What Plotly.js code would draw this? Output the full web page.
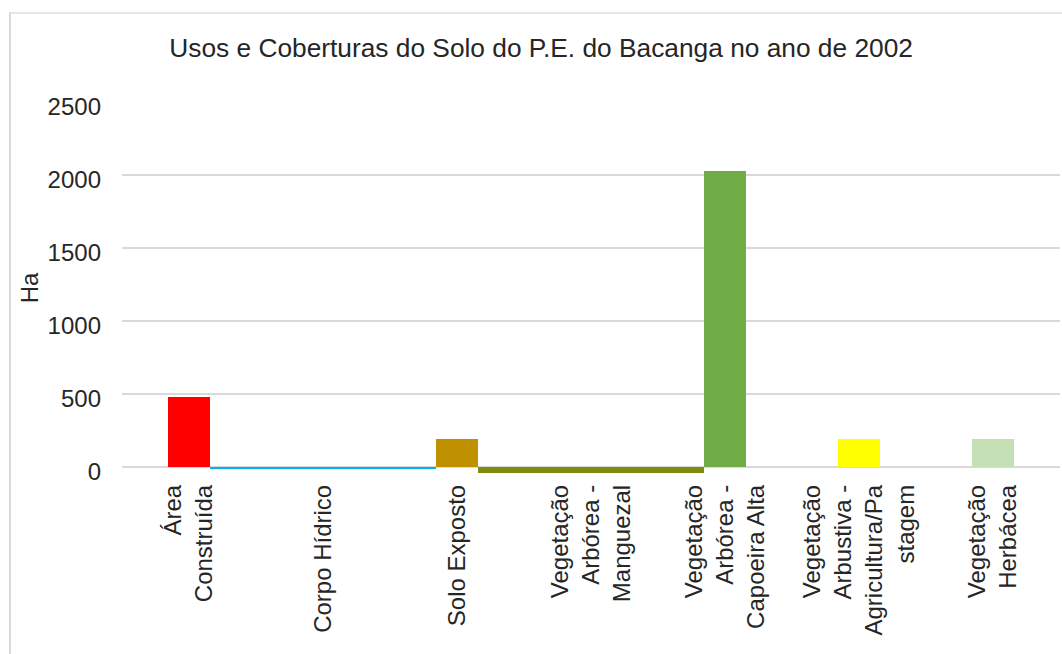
<!DOCTYPE html>
<html>
<head>
<meta charset="utf-8">
<script src="https://cdn.plot.ly/plotly-3.0.1.min.js"></script>
<style>
  html, body { margin: 0; padding: 0; background: #ffffff; }
  #frame { position: absolute; left: 9px; top: 12px; width: 1100px; height: 700px;
           border-left: 2px solid #d9d9d9; border-top: 2px solid #e6e6e6; }
  #chart { position: absolute; left: 0; top: 0; width: 1062px; height: 654px; }
</style>
</head>
<body>
<div id="frame"></div>
<div id="chart"></div>
<script>
const categories = [
  "Área Construída",
  "Corpo Hídrico",
  "Solo Exposto",
  "Vegetação Arbórea - Manguezal",
  "Vegetação Arbórea - Capoeira Alta",
  "Vegetação Arbustiva - Agricultura/Pastagem",
  "Vegetação Herbácea"
];
const tickLabels = [
  "Área<br>Construída",
  "Corpo Hídrico",
  "Solo Exposto",
  "Vegetação<br>Arbórea -<br>Manguezal",
  "Vegetação<br>Arbórea -<br>Capoeira Alta",
  "Vegetação<br>Arbustiva -<br>Agricultura/Pa<br>stagem",
  "Vegetação<br>Herbácea"
];
const areaHa = [478, -14, 195, -40, 2025, 195, 195];
const barColors = ["#ff0000", "#00b0f0", "#bf9000", "#7f8c0e", "#70ad47", "#ffff00", "#c5e0b4"];
const barWidths = [0.31, 1.68, 0.31, 1.68, 0.31, 0.31, 0.31];

const font = "Liberation Sans, Arial, sans-serif";

Plotly.newPlot("chart", [{
  type: "bar",
  x: categories,
  y: areaHa,
  width: barWidths,
  marker: { color: barColors, line: { width: 0 } },
  hoverinfo: "x+y"
}], {
  width: 1062, height: 654,
  paper_bgcolor: "rgba(0,0,0,0)",
  plot_bgcolor: "rgba(0,0,0,0)",
  margin: { l: 122, r: 2, t: 102, b: 180 },
  showlegend: false,
  title: {
    text: "Usos e Coberturas do Solo do P.E. do Bacanga no ano de 2002",
    font: { family: font, size: 26.3, color: "#262626" },
    x: 0.5095, xanchor: "center", y: 1 - 48/654, yanchor: "middle", yref: "container"
  },
  xaxis: {
    type: "category",
    tickvals: categories,
    ticktext: tickLabels,
    tickangle: -90,
    tickfont: { family: font, size: 24, color: "#262626" },
    showgrid: false, showline: false, zeroline: false,
    ticks: "", ticklabelstandoff: 5
  },
  yaxis: {
    range: [-48, 2500],
    tickvals: [0, 500, 1000, 1500, 2000, 2500],
    tickfont: { family: font, size: 24, color: "#262626" },
    gridcolor: "#d9d9d9", gridwidth: 2,
    zeroline: true, zerolinecolor: "#d9d9d9", zerolinewidth: 2,
    showline: false, ticks: "", ticklabelstandoff: 20, ticklabelshift: 5,
    title: { text: "Ha", font: { family: font, size: 24, color: "#262626" }, standoff: 2 }
  },
  bargap: 0
}, { displayModeBar: false, staticPlot: true });
</script>
</body>
</html>
